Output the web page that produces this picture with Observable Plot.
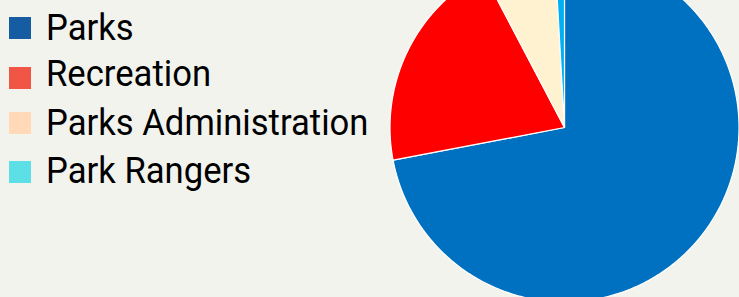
<!DOCTYPE html>
<html>
<head>
<meta charset="utf-8">
<script src="https://cdn.jsdelivr.net/npm/d3@7"></script>
<script src="https://cdn.jsdelivr.net/npm/@observablehq/plot@0.6"></script>
<style>
  html, body { margin: 0; padding: 0; background: #f3f3ee; }
  #wrap { position: relative; width: 739px; height: 297px; overflow: hidden; background: #f3f3ee; }
  #chart svg { display: block; overflow: hidden; }
  #legend { position: absolute; left: 9px; top: 0; font-family: Roboto, sans-serif; color: #000; }
  .sw { position: absolute; left: 0; width: 22px; height: 22px; }
  .lb { position: absolute; left: 37px; white-space: nowrap; font-size: 36px; line-height: 22px; transform: scaleX(0.962); transform-origin: 0 50%; }
</style>
</head>
<body>
<div id="wrap">
  <div id="chart"></div>
  <div id="legend"></div>
</div>
<script>
// Data
const categories = ["Parks", "Recreation", "Parks Administration", "Park Rangers"];
const shares = [72.0, 20.3, 6.8, 0.9];
const sliceColors = ["#0070c0", "#ff0000", "#fff2d0", "#00b0f0"];
const legendColors = ["#155ca3", "#f05545", "#ffd9b8", "#5ce0e6"];
// legend layout (px)
const swatchTops = [17, 67, 112, 161];
const labelTops = [17, 63, 112, 159.5];

// Build slice polygons (unit circle, clockwise from 12 o'clock)
const pie = d3.pie().sort(null).value(d => d.value)(categories.map((c, i) => ({category: c, value: shares[i]})));
const pts = [];
for (const a of pie) {
  const n = Math.max(2, Math.ceil((a.endAngle - a.startAngle) / 0.01));
  pts.push({category: a.data.category, x: 0, y: 0});
  for (let k = 0; k <= n; k++) {
    const t = a.startAngle + (a.endAngle - a.startAngle) * k / n;
    pts.push({category: a.data.category, x: Math.sin(t), y: Math.cos(t)});
  }
}

const cx = 564, cy = 127, r = 174.5;
const plot = Plot.plot({
  width: 739,
  height: 297,
  margin: 0,
  style: {background: "transparent", overflow: "hidden"},
  x: {domain: [-1, 1], range: [cx - r, cx + r], axis: null},
  y: {domain: [-1, 1], range: [cy + r, cy - r], axis: null},
  color: {domain: categories, range: sliceColors},
  marks: [
    Plot.line(pts, {x: "x", y: "y", z: "category", fill: "category", stroke: "white", strokeWidth: 1.2, curve: "linear-closed"})
  ]
});
document.getElementById("chart").appendChild(plot);

const legend = document.getElementById("legend");
categories.forEach((c, i) => {
  const sw = document.createElement("div");
  sw.className = "sw";
  sw.style.top = swatchTops[i] + "px";
  sw.style.background = legendColors[i];
  legend.appendChild(sw);
  const lb = document.createElement("span");
  lb.className = "lb";
  lb.style.top = labelTops[i] + "px";
  lb.textContent = c;
  legend.appendChild(lb);
});
</script>
</body>
</html>
